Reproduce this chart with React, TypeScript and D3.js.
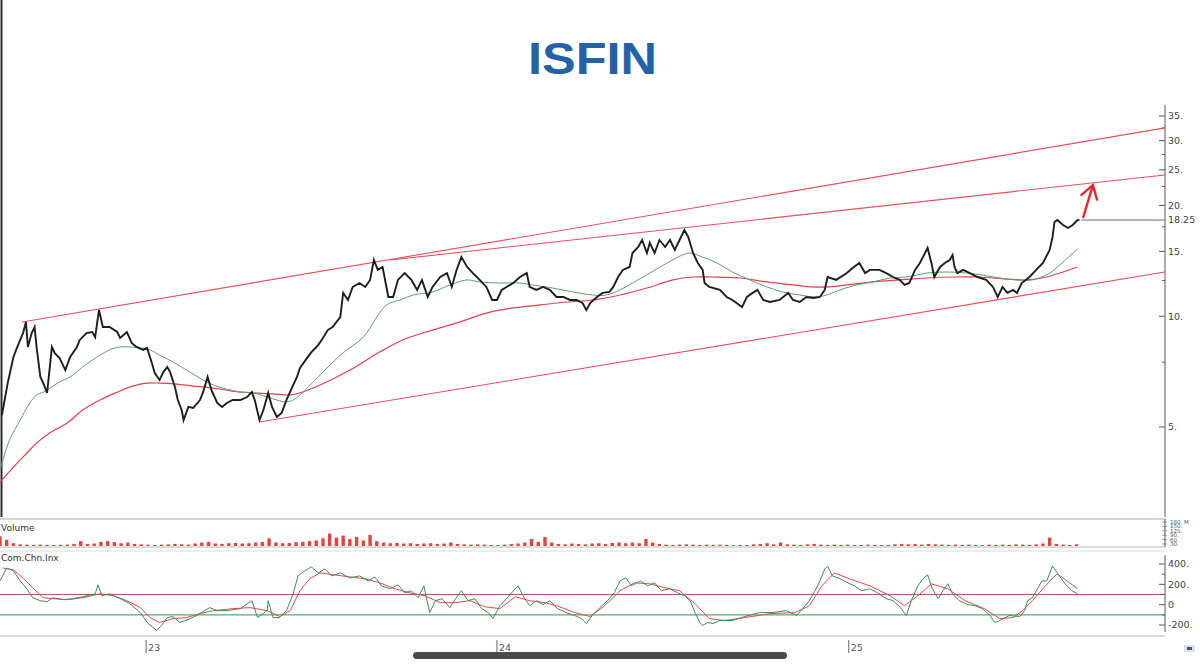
import React from 'react';
import * as d3 from 'd3';

// ---------- DATA (day offsets from 2022-08-02) ----------
const START = new Date(2022, 7, 2);
const END_OFFSET = 1212;

const closeSeries: [number, number][] = [
[2,5.39],[8,6.58],[14,7.75],[18,8.25],[24,9.0],[27,9.64],[29,8.25],[33,9.0],[36,9.35],[38,8.25],[42,6.84],[45,6.58],[49,6.19],[54,8.25],[57,7.94],[62,7.7],[68,7.14],[73,7.75],[80,8.25],[83,8.62],[90,9.0],[96,9.06],[99,8.78],[103,10.4],[107,9.35],[114,9.35],[122,9.06],[125,8.73],[132,9.06],[137,8.46],[142,8.25],[149,8.1],[153,8.2],[158,7.46],[161,7.01],[166,6.71],[170,7.05],[174,7.28],[177,7.05],[182,6.42],[185,5.92],[189,5.56],[191,5.22],[196,5.67],[201,5.63],[208,5.92],[211,6.19],[216,6.84],[220,6.3],[226,5.81],[231,5.67],[236,5.81],[242,5.92],[250,5.92],[257,6.03],[262,6.22],[265,5.92],[270,5.22],[274,5.56],[279,6.19],[283,5.67],[288,5.32],[293,5.46],[298,5.92],[304,6.42],[309,6.84],[312,7.23],[318,7.61],[324,7.99],[331,8.35],[336,8.73],[341,9.17],[346,9.35],[354,9.95],[357,11.57],[362,11.07],[367,12.01],[374,12.31],[380,12.01],[385,12.55],[389,14.22],[393,13.36],[398,13.61],[404,11.28],[409,11.28],[414,12.55],[421,13.1],[428,12.55],[434,11.79],[439,12.55],[445,11.28],[450,12.01],[458,12.78],[465,13.1],[470,12.01],[475,13.36],[480,14.48],[486,13.61],[492,13.1],[499,12.55],[506,12.01],[512,11.07],[517,11.07],[522,11.79],[527,12.01],[534,12.31],[541,12.78],[548,13.1],[551,12.01],[558,11.79],[565,12.01],[572,11.79],[579,11.28],[586,11.28],[593,11.07],[600,11.07],[606,10.86],[610,10.4],[614,10.86],[621,11.28],[627,11.57],[634,11.64],[638,12.01],[643,12.78],[648,13.36],[655,13.61],[658,14.85],[664,15.42],[668,16.11],[673,14.85],[676,15.82],[681,14.85],[686,16.11],[692,15.42],[697,16.11],[702,15.14],[707,16.11],[712,17.15],[716,16.42],[721,14.85],[726,13.95],[731,13.36],[733,12.31],[738,12.01],[749,11.79],[756,11.28],[762,11.07],[772,10.59],[777,11.28],[783,11.57],[788,11.79],[794,11.07],[801,10.93],[811,11.07],[820,11.57],[825,11.07],[832,10.93],[839,11.28],[846,11.21],[853,11.28],[858,11.79],[861,12.78],[870,12.55],[881,13.1],[887,13.52],[894,13.95],[900,13.1],[905,13.36],[915,13.36],[922,13.1],[929,12.78],[936,12.55],[941,12.16],[946,12.31],[952,13.36],[957,13.95],[965,15.33],[969,13.95],[972,12.78],[978,13.61],[983,13.95],[988,14.22],[991,14.67],[993,13.61],[996,13.1],[1002,13.36],[1009,13.1],[1017,12.78],[1026,12.55],[1033,12.01],[1038,11.28],[1043,12.01],[1048,11.57],[1054,11.79],[1058,11.57],[1063,12.31],[1071,12.78],[1078,13.36],[1085,13.95],[1092,15.14],[1095,16.42],[1097,18.03],[1100,18.26],[1106,17.7],[1111,17.37],[1116,17.7],[1121,18.26],[1123,18.25]
];

const maFast: [number, number][] = [
[0,3.82],[10,4.61],[21,5.22],[31,5.81],[38,6.11],[45,6.22],[52,6.38],[62,6.63],[73,6.84],[86,7.28],[101,7.75],[114,8.1],[125,8.25],[135,8.25],[146,8.2],[156,8.1],[166,7.84],[180,7.51],[194,7.14],[208,6.79],[222,6.5],[236,6.34],[250,6.22],[263,6.19],[278,6.03],[288,5.92],[298,5.85],[305,5.92],[312,6.11],[333,6.92],[354,7.84],[378,8.78],[392,9.95],[402,10.73],[416,11.07],[430,11.42],[450,11.64],[468,12.16],[486,12.55],[499,12.39],[520,12.31],[541,12.31],[554,12.16],[575,11.93],[596,11.64],[617,11.42],[631,11.42],[645,11.79],[658,12.31],[676,13.1],[694,13.95],[710,14.67],[718,14.85],[731,14.48],[746,13.95],[762,13.19],[780,12.55],[798,12.01],[814,11.64],[832,11.42],[850,11.28],[860,11.42],[874,11.79],[891,12.16],[908,12.39],[926,12.7],[943,12.78],[964,13.1],[985,13.19],[1006,13.1],[1022,12.94],[1040,12.7],[1058,12.55],[1074,12.55],[1092,13.1],[1106,14.04],[1121,15.23]
];

const maSlow: [number, number][] = [
[0,3.54],[14,3.89],[28,4.25],[38,4.52],[52,4.82],[70,5.13],[86,5.56],[104,5.92],[122,6.22],[138,6.46],[153,6.58],[166,6.58],[184,6.54],[201,6.46],[222,6.38],[242,6.26],[263,6.19],[284,6.15],[302,6.11],[312,6.19],[333,6.5],[364,7.14],[395,7.99],[419,8.62],[450,9.17],[478,9.64],[506,10.2],[534,10.53],[562,10.73],[590,10.93],[617,11.07],[645,11.42],[673,11.93],[700,12.55],[721,12.78],[742,12.78],[770,12.7],[798,12.39],[825,12.16],[846,12.01],[860,12.01],[881,12.16],[908,12.39],[936,12.55],[964,12.7],[991,12.78],[1019,12.78],[1047,12.62],[1068,12.55],[1089,12.78],[1106,13.19],[1121,13.61]
];

// weekly volume (millions), one value per 7 days from START
const volumeWeekly: number[] = [
70,45,20,12,10,8,10,8,7,8,10,14,35,15,18,30,35,28,20,25,
15,12,10,8,10,12,15,12,10,18,25,30,18,15,20,22,18,20,25,30,
55,25,20,22,28,30,35,40,55,90,60,75,50,65,40,80,35,25,20,22,
18,20,15,18,20,15,18,25,15,12,10,12,10,8,7,10,14,18,25,50,
30,65,25,15,12,18,15,12,18,20,15,22,25,20,25,20,50,25,15,10,
8,10,12,10,8,10,8,10,8,6,8,7,12,15,20,12,25,12,10,8,
12,15,10,8,10,8,10,7,8,10,8,7,8,12,15,12,14,10,15,12,
10,8,10,8,10,8,7,10,8,10,8,12,10,8,12,18,60,15,10,8,12
];

const cciFast: [number, number][] = [
[0,234],[7,361],[14,332],[21,234],[28,156],[34,68],[42,39],[49,29],[55,68],[66,49],[76,59],[86,78],[99,107],[102,195],[106,88],[114,107],[125,59],[135,10],[146,-78],[154,-185],[163,-254],[168,-205],[174,-127],[180,-117],[187,-176],[198,-137],[208,-88],[218,-29],[226,-59],[236,-59],[250,-39],[262,39],[268,-127],[278,-59],[279,39],[284,-127],[291,-127],[298,-59],[305,107],[310,283],[317,332],[324,371],[331,312],[338,351],[345,283],[354,312],[364,263],[374,283],[383,234],[390,273],[397,185],[406,156],[414,195],[421,117],[428,137],[435,68],[441,185],[447,-78],[453,39],[460,59],[468,-29],[474,59],[480,137],[487,39],[494,59],[501,-39],[508,-78],[513,-137],[520,-10],[527,59],[534,137],[539,185],[544,88],[551,-10],[558,39],[565,0],[572,39],[580,-39],[589,-78],[598,-107],[605,-137],[610,-185],[616,-107],[624,-29],[632,39],[639,117],[645,234],[651,263],[657,185],[666,234],[674,185],[681,215],[688,137],[697,156],[705,117],[712,88],[718,39],[723,-78],[728,-176],[731,-205],[736,-176],[742,-185],[749,-156],[762,-156],[775,-117],[790,-78],[803,-78],[818,-59],[829,-107],[835,-39],[842,39],[848,137],[853,234],[858,351],[861,380],[866,283],[874,254],[882,215],[889,185],[896,137],[905,156],[913,117],[922,59],[929,39],[936,-20],[943,-107],[948,39],[955,185],[960,254],[965,293],[970,156],[976,59],[981,137],[986,205],[991,107],[998,39],[1007,0],[1014,-10],[1022,-39],[1030,-107],[1035,-176],[1040,-156],[1050,-107],[1061,-117],[1066,-59],[1069,39],[1074,68],[1080,166],[1084,234],[1089,234],[1095,380],[1100,312],[1108,205],[1115,137],[1121,107]
];

const cciSlow: [number, number][] = [
[3,361],[14,341],[24,263],[34,166],[45,68],[55,59],[70,49],[86,68],[104,107],[118,88],[132,39],[146,-29],[156,-127],[166,-176],[180,-137],[194,-127],[208,-88],[222,-59],[242,-39],[260,-29],[278,-59],[291,-117],[302,-59],[312,137],[322,254],[333,312],[348,293],[364,273],[380,254],[395,215],[411,156],[426,117],[442,88],[458,20],[473,20],[489,39],[504,-20],[520,-39],[536,78],[551,39],[567,20],[582,-20],[598,-78],[614,-117],[629,-10],[645,137],[660,215],[676,205],[692,166],[707,137],[723,10],[738,-137],[754,-156],[775,-127],[801,-88],[827,-78],[842,-10],[855,185],[868,312],[884,254],[905,185],[926,88],[941,-10],[955,88],[969,205],[986,156],[1004,39],[1024,-39],[1040,-137],[1054,-127],[1064,-59],[1074,39],[1085,156],[1095,263],[1100,302],[1110,234],[1121,156]
];

// trend lines [dayOffset, price]
const trendLines: [number, number][][] = [
  [[23, 9.64], [1212, 32.5]],
  [[406, 14.22], [1212, 24.2]],
  [[270, 5.16], [1212, 13.19]],
];
const arrowFrom: [number, number] = [1127, 18.6];
const arrowTo: [number, number] = [1137, 22.7];
const lastPrice = 18.25;
const lastPriceFrom = 1125;

const priceMajor = [5, 10, 15, 20, 25, 30, 35];
const priceMinor = [7.5, 12.5, 17.5, 22.5, 27.5, 32.5];
const cciMajor = [400, 200, 0, -200];
const cciMinor = [300, 100, -100];
const cciLevels = [100, -100];
const volLabels = ['180. M', '150.', '120.', '90.', '60.', '30.'];
const yearTicks = [new Date(2023, 0, 1), new Date(2024, 0, 1), new Date(2025, 0, 1)];

const day = (o: number) => d3.timeDay.offset(START, o);

export default function App() {
  const W = 1200, H = 672;
  const axisX = 1165;
  const x = d3.scaleTime().domain([START, day(END_OFFSET)]).range([0, axisX]);
  const yP = d3.scaleLog().domain([5, 35]).range([427, 116]);
  const yV = d3.scaleLinear().domain([0, 180]).range([546, 521]);
  const yC = d3.scaleLinear().domain([-200, 400]).range([625, 564]);

  const priceLine = d3.line<[number, number]>().x(d => x(day(d[0]))).y(d => yP(d[1]));
  const maLine = d3.line<[number, number]>().x(d => x(day(d[0]))).y(d => yP(d[1])).curve(d3.curveCatmullRom);
  const cciLine = d3.line<[number, number]>().x(d => x(day(d[0]))).y(d => yC(d[1]));

  const font = "'DejaVu Sans', Verdana, sans-serif";

  // arrow geometry
  const ax1 = x(day(arrowFrom[0])), ay1 = yP(arrowFrom[1]);
  const ax2 = x(day(arrowTo[0])), ay2 = yP(arrowTo[1]);
  const ang = Math.atan2(ay1 - ay2, ax1 - ax2);
  const wing = 15, spread = Math.PI / 5.5;
  const w1 = [ax2 + wing * Math.cos(ang + spread), ay2 + wing * Math.sin(ang + spread)];
  const w2 = [ax2 + wing * Math.cos(ang - spread), ay2 + wing * Math.sin(ang - spread)];

  return (
    <svg width={W} height={H} style={{ position: 'absolute', left: 0, top: 0, background: '#fff' }}>
      <rect x={0} y={0} width={W} height={H} fill="#ffffff" />
      {/* title */}
      <text x={592.5} y={74} textAnchor="middle" fontFamily="'Liberation Sans', Arial, sans-serif"
        fontWeight="bold" fontSize={44} fill="#2462a8" textLength={129} lengthAdjust="spacingAndGlyphs">ISFIN</text>

      {/* left frame line */}
      <line x1={1.5} x2={1.5} y1={0} y2={517} stroke="#2a2a2a" strokeWidth={2} />

      {/* price axis */}
      <line x1={axisX} x2={axisX} y1={105} y2={517} stroke="#555" strokeWidth={1} />
      {priceMajor.map(v => (
        <g key={'pm' + v}>
          <line x1={axisX - 6} x2={axisX} y1={yP(v)} y2={yP(v)} stroke="#555" />
          <text x={axisX + 3} y={yP(v)} dy="0.35em" fontSize={9.5} fontFamily={font} fill="#444">{v}.</text>
        </g>
      ))}
      {priceMinor.map(v => (
        <line key={'pn' + v} x1={axisX - 3} x2={axisX} y1={yP(v)} y2={yP(v)} stroke="#555" />
      ))}
      <text x={axisX + 3} y={yP(lastPrice)} dy="0.35em" fontSize={9.5} fontFamily={font} fill="#444">{lastPrice}</text>

      {/* trend lines */}
      {trendLines.map((t, i) => (
        <line key={'tl' + i} x1={x(day(t[0][0]))} y1={yP(t[0][1])} x2={x(day(t[1][0]))} y2={yP(t[1][1])}
          stroke="#e8505c" strokeWidth={1.1} />
      ))}

      {/* moving averages */}
      <path d={maLine(maSlow) || ''} fill="none" stroke="#e0404e" strokeWidth={1.2} />
      <path d={maLine(maFast) || ''} fill="none" stroke="#5f9e70" strokeWidth={1} />

      {/* price */}
      <path d={priceLine(closeSeries) || ''} fill="none" stroke="#1e1e1e" strokeWidth={1.9} strokeLinejoin="miter" />

      {/* last price line */}
      <line x1={x(day(lastPriceFrom))} x2={axisX} y1={yP(lastPrice)} y2={yP(lastPrice)} stroke="#6a6a9e" strokeWidth={1} />

      {/* arrow */}
      <g stroke="#e8262e" strokeWidth={2.4} fill="none" strokeLinecap="round">
        <line x1={ax1} y1={ay1} x2={ax2} y2={ay2} />
        <polyline points={`${w1[0]},${w1[1]} ${ax2},${ay2} ${w2[0]},${w2[1]}`} />
      </g>

      {/* volume panel */}
      <line x1={0} x2={axisX} y1={519} y2={519} stroke="#b8cfc8" strokeWidth={1.5} />
      <text x={1} y={531} fontSize={9} fontFamily={font} fill="#333">Volume</text>
      {volumeWeekly.map((v, i) => (
        <rect key={'v' + i} x={x(day(i * 7)) - 1.7} y={yV(v)} width={3.4} height={yV(0) - yV(v)} fill="#e4443e" />
      ))}
      <line x1={0} x2={axisX} y1={547} y2={547} stroke="#a9c2b6" strokeWidth={1.2} />
      <line x1={axisX} x2={axisX} y1={519} y2={547} stroke="#555" />
      {volLabels.map((l, i) => (
        <g key={'vl' + i}>
          <line x1={axisX - 3} x2={axisX + 2} y1={522 + i * 4.4} y2={522 + i * 4.4} stroke="#666" strokeWidth={0.6} />
          <text x={axisX + 5} y={522 + i * 4.4} dy="0.35em" fontSize={5.5} fontFamily={font} fill="#555">{l}</text>
        </g>
      ))}

      {/* CCI panel */}
      <line x1={0} x2={axisX} y1={551} y2={551} stroke="#dcdcdc" strokeWidth={1} />
      <text x={1} y={561} fontSize={9} fontFamily={font} fill="#333">Com.Chn.Inx</text>
      <line x1={0} x2={axisX} y1={yC(cciLevels[0])} y2={yC(cciLevels[0])} stroke="#b05566" strokeWidth={1.2} />
      <line x1={0} x2={axisX} y1={yC(cciLevels[1])} y2={yC(cciLevels[1])} stroke="#5aa878" strokeWidth={1.2} />
      <path d={cciLine(cciSlow) || ''} fill="none" stroke="#e5484e" strokeWidth={1} />
      <path d={cciLine(cciFast) || ''} fill="none" stroke="#3f8a58" strokeWidth={1} />
      <line x1={axisX} x2={axisX} y1={555} y2={632} stroke="#555" />
      {cciMajor.map(v => (
        <g key={'cm' + v}>
          <line x1={axisX - 6} x2={axisX} y1={yC(v)} y2={yC(v)} stroke="#555" />
          <text x={axisX + 3} y={yC(v)} dy="0.35em" fontSize={9.5} fontFamily={font} fill="#444">{v === 0 ? '0' : `${v}.`}</text>
        </g>
      ))}
      {cciMinor.map(v => (
        <line key={'cn' + v} x1={axisX - 3} x2={axisX} y1={yC(v)} y2={yC(v)} stroke="#555" />
      ))}
      <line x1={0} x2={axisX} y1={636} y2={636} stroke="#cfcfcf" strokeWidth={1.5} />

      {/* time axis */}
      {yearTicks.map(d => (
        <g key={'yt' + d.getFullYear()}>
          <line x1={x(d)} x2={x(d)} y1={640} y2={653} stroke="#666" />
          <text x={x(d) + 2} y={651} fontSize={9.5} fontFamily={font} fill="#555">{String(d.getFullYear()).slice(2)}</text>
        </g>
      ))}

      {/* phone home indicator & corner icon */}
      <rect x={413} y={652} width={374} height={7} rx={3.5} fill="#4a4a4a" />
      <rect x={1184} y={645} width={11} height={7} fill="#d8e2f0" />
      <rect x={1187} y={647} width={5} height={3} fill="#556" />
    </svg>
  );
}
